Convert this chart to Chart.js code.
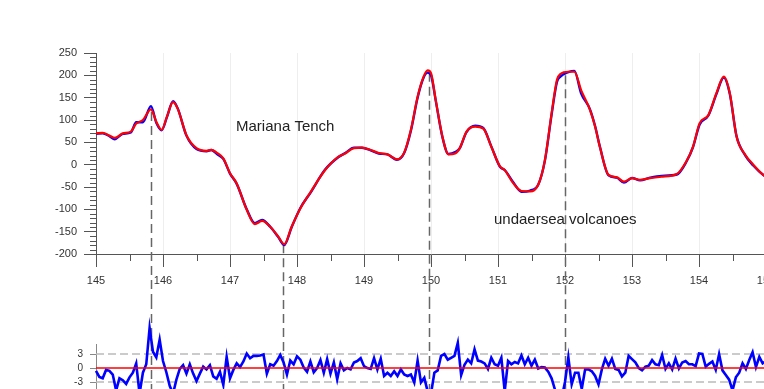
<!DOCTYPE html>
<html>
<head>
<meta charset="utf-8">
<script src="https://cdn.jsdelivr.net/npm/chart.js@4.4.1/dist/chart.umd.min.js"></script>
<style>
  html, body { margin: 0; padding: 0; background: #fff; overflow: hidden; width: 764px; height: 389px; }
  #topBox { position: absolute; left: 0; top: 0; }
  #botBox { position: absolute; left: 0; top: 300px; }
</style>
</head>
<body>
<div id="topBox"><canvas id="depthChart" width="800" height="300"></canvas></div>
<div id="botBox"><canvas id="residChart" width="800" height="130"></canvas></div>
<script>
// longitude of each depth sample
var depthX = [145.00,145.10,145.20,145.28,145.40,145.52,145.60,145.70,145.82,145.90,145.98,146.06,146.15,146.22,146.35,146.50,146.65,146.72,146.82,146.90,
  147.00,147.10,147.25,147.37,147.48,147.60,147.72,147.81,147.92,148.05,148.20,148.42,148.62,148.72,148.85,148.97,149.10,149.22,149.35,149.49,
  149.60,149.70,149.80,149.89,149.95,150.00,150.07,150.17,150.26,150.36,150.43,150.53,150.66,150.78,150.90,151.03,151.10,151.23,151.35,151.48,
  151.60,151.70,151.80,151.88,151.93,152.05,152.14,152.24,152.37,152.45,152.52,152.65,152.77,152.88,153.00,153.12,153.27,153.44,153.67,153.81,
  153.91,154.01,154.14,154.26,154.37,154.46,154.56,154.69,154.81,154.96,155.05];
// red (model) curve
var redDepth = [70,71,65,60,70,74,92,100,124,96,78,108,140,125,66,37,31,33,25,14,
  -19,-42,-101,-133,-126,-139,-161,-178,-139,-98,-62,-12,18,25,37,38,33,26,23,12,
  27,78,152,197,211,205,145,63,23,25,37,74,85,81,40,-4,-12,-42,-59,-60,
  -45,10,115,190,203,208,208,167,124,85,40,-23,-28,-38,-30,-34,-30,-27,-21,7,
  40,93,111,160,197,160,63,22,0,-23,-30];
// blue (observed) curve
var blueDepth = [69,70,64,57,69,72,95,95,131,94,77,107,142,126,65,35,30,33,22,13,
  -20,-43,-100,-131,-124,-139,-162,-180,-140,-97,-63,-11,17,26,38,38,32,25,23,11,
  26,76,150,195,206,200,144,62,24,28,37,73,87,82,41,-5,-12,-40,-61,-58,
  -45,9,112,185,197,207,210,160,125,86,41,-24,-29,-40,-30,-35,-29,-25,-22,6,
  39,90,110,158,195,158,64,21,-2,-23,-30];

// residuals, one value every 0.05 deg from 145.00 to 155.00
var residStart = 145, residStep = 0.05;
var residual = [-0.6,-1.9,-2.2,-0.4,-0.6,-1.4,-4.8,-2.2,-2.6,-3.4,-2.0,-1.0,1.0,-5.5,-1.0,0.8,8.6,3.5,2.3,6.1,
  1.5,-0.9,-3.8,-5.5,-2.5,-0.2,0.6,-1.2,0.8,-1.2,-2.8,-1.2,0.3,-0.3,0.6,-1.8,-2.3,-0.8,-3.6,2.4,
  -2.2,-0.4,1.0,0.2,1.4,3.1,2.1,2.6,2.6,2.7,2.9,-1.2,0.8,0.5,1.5,2.8,1.2,-1.4,1.6,0.8,
  2.5,1.8,0.1,-0.8,1.4,-0.9,0.0,1.7,-1.0,1.9,-1.2,1.2,-2.4,1.0,-0.5,0.0,-0.3,1.2,1.5,2.1,
  0.4,0.0,-0.2,2.1,-0.3,2.0,-1.7,-1.0,-1.7,-0.7,-1.7,-0.3,-1.4,-1.7,-1.4,-3.1,1.6,-3.1,-2.1,-5.0,
  -5.5,-1.0,-0.5,2.6,3.0,1.8,2.2,2.6,5.4,-1.5,0.7,1.8,1.0,4.0,1.6,1.4,1.0,-0.2,2.2,0.8,
  0.5,2.2,-5.0,1.5,0.8,1.3,1.0,2.7,0.8,2.2,0.5,1.8,-0.1,0.2,0.1,-0.8,-2.2,-4.6,-6.0,-6.5,
  -3.0,2.3,-3.5,-1.0,-1.0,-4.5,-0.3,-0.3,-0.7,-1.7,-3.5,-0.3,2.0,0.5,2.0,-0.2,-0.4,-1.8,-1.0,2.6,
  1.9,1.2,0.0,-0.5,0.3,0.5,1.7,0.8,0.6,2.8,-0.2,1.0,-0.3,2.0,-0.1,1.2,1.5,0.8,0.8,0.4,
  3.1,3.0,0.3,0.9,1.4,-0.4,3.0,-0.5,-1.5,-2.5,-4.8,-2.0,-1.0,1.0,-0.2,1.7,3.4,0.2,2.4,1.0,
  1.5];
var residLimit = 3;

// dashed marker lines: longitude and the depth where each starts
var markerX = [145.82, 147.79, 149.97, 152.00];
var markerTop = [118, -178, 206, 200];

var notes = [
  { text: 'Mariana Tench', x: 147.09, y: 84 },
  { text: 'undaersea volcanoes', x: 150.94, y: -124 }
];

var xMin = 145, xMax = 155;

Chart.defaults.font.family = "'Liberation Sans', Arial, sans-serif";
Chart.defaults.color = '#333';

function pts(xs, ys) {
  return xs.map(function (x, i) { return { x: x, y: ys[i] }; });
}
var residPts = residual.map(function (v, i) {
  return { x: +(residStart + i * residStep).toFixed(2), y: v };
});

function markerPlugin(fromCurve) {
  return {
    id: 'markerLines',
    beforeDatasetsDraw: function (chart) {
      var ctx = chart.ctx, x = chart.scales.x, y = chart.scales.y;
      ctx.save();
      ctx.setLineDash([9, 5]);
      ctx.strokeStyle = '#666';
      ctx.lineWidth = 1.5;
      markerX.forEach(function (mx, i) {
        var px = Math.round(x.getPixelForValue(mx)) + 0.5;
        var top = fromCurve ? y.getPixelForValue(markerTop[i]) : 0;
        ctx.beginPath();
        ctx.moveTo(px, top);
        ctx.lineTo(px, chart.height);
        ctx.stroke();
      });
      ctx.restore();
    }
  };
}

var minorTicks = {
  id: 'minorTicks',
  afterDraw: function (chart) {
    var ctx = chart.ctx, x = chart.scales.x, y = chart.scales.y;
    ctx.save();
    ctx.strokeStyle = '#555';
    ctx.lineWidth = 1;
    ctx.beginPath();
    for (var v = -200; v <= 250; v += 10) {
      if (v % 50 === 0) continue;
      var py = Math.round(y.getPixelForValue(v)) + 0.5;
      ctx.moveTo(x.left - 6, py);
      ctx.lineTo(x.left, py);
    }
    for (var k = 0; k < 10; k++) {
      var px = Math.round(x.getPixelForValue(xMin + k + 0.5)) + 0.5;
      ctx.moveTo(px, y.bottom);
      ctx.lineTo(px, y.bottom + 7);
    }
    ctx.stroke();
    ctx.restore();
  }
};

var notePlugin = {
  id: 'notes',
  afterDatasetsDraw: function (chart) {
    var ctx = chart.ctx, x = chart.scales.x, y = chart.scales.y;
    ctx.save();
    ctx.font = "15px 'Liberation Sans', Arial, sans-serif";
    ctx.fillStyle = '#222';
    ctx.textBaseline = 'middle';
    notes.forEach(function (n) {
      ctx.fillText(n.text, x.getPixelForValue(n.x), y.getPixelForValue(n.y));
    });
    ctx.restore();
  }
};

new Chart(document.getElementById('depthChart'), {
  type: 'line',
  data: {
    datasets: [
      { label: 'model', data: pts(depthX, redDepth), borderColor: '#ff0000', borderWidth: 2.2,
        pointRadius: 0, cubicInterpolationMode: 'monotone' },
      { label: 'observed', data: pts(depthX, blueDepth), borderColor: '#0000ff', borderWidth: 2.4,
        pointRadius: 0, cubicInterpolationMode: 'monotone' }
    ]
  },
  options: {
    responsive: false,
    animation: false,
    devicePixelRatio: 1,
    layout: { padding: { left: 0, top: 53, right: 34, bottom: 0 } },
    plugins: { legend: { display: false }, tooltip: { enabled: false } },
    scales: {
      x: {
        type: 'linear', min: xMin, max: xMax,
        afterFit: function (s) { s.height = 46; },
        ticks: { stepSize: 1, padding: 7, font: { size: 11 }, color: '#333', maxRotation: 0 },
        grid: { color: '#eeeeee', tickColor: '#555', tickLength: 13 },
        border: { color: '#555' }
      },
      y: {
        min: -200, max: 250,
        afterFit: function (s) { s.width = 96; },
        ticks: { stepSize: 50, padding: 7, font: { size: 11 }, color: '#333' },
        grid: { drawOnChartArea: false, tickColor: '#555', tickLength: 12 },
        border: { color: '#555' }
      }
    }
  },
  plugins: [markerPlugin(true), minorTicks, notePlugin]
});

new Chart(document.getElementById('residChart'), {
  type: 'line',
  data: {
    datasets: [
      { label: 'zero', data: [{ x: xMin, y: 0 }, { x: xMax, y: 0 }], borderColor: '#ff0000',
        borderWidth: 1.6, pointRadius: 0 },
      { label: 'residual', data: residPts, borderColor: '#0000ff', borderWidth: 2.6,
        pointRadius: 0, tension: 0, clip: false },
      { label: '+limit', data: [{ x: xMin, y: residLimit }, { x: xMax, y: residLimit }], borderColor: '#bbbbbb',
        borderWidth: 1.5, borderDash: [8, 4], pointRadius: 0 },
      { label: '-limit', data: [{ x: xMin, y: -residLimit }, { x: xMax, y: -residLimit }], borderColor: '#bbbbbb',
        borderWidth: 1.5, borderDash: [8, 4], pointRadius: 0 }
    ]
  },
  options: {
    responsive: false,
    animation: false,
    devicePixelRatio: 1,
    layout: { padding: { left: 0, top: 44.7, right: 34, bottom: 15.3 } },
    plugins: { legend: { display: false }, tooltip: { enabled: false } },
    scales: {
      x: { type: 'linear', min: xMin, max: xMax, display: false },
      y: {
        min: -10, max: 5,
        afterFit: function (s) { s.width = 96; },
        afterBuildTicks: function (s) {
          s.ticks = [-residLimit, 0, residLimit].map(function (v) { return { value: v }; });
        },
        ticks: { padding: 7, font: { size: 10 }, color: '#333' },
        grid: { drawOnChartArea: false, tickColor: '#888', tickLength: 6 },
        border: { color: '#888' }
      }
    }
  },
  plugins: [markerPlugin(false)]
});
</script>
</body>
</html>
